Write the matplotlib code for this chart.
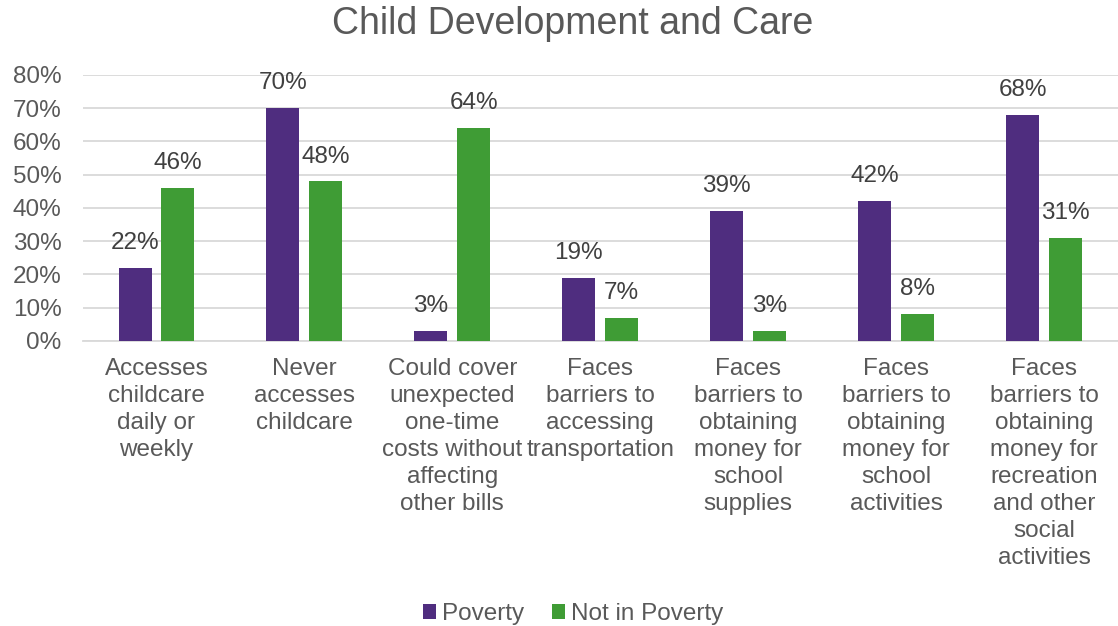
import matplotlib
matplotlib.use("Agg")
import matplotlib.pyplot as plt
import numpy as np

categories = [
    "Accesses\nchildcare\ndaily or\nweekly",
    "Never\naccesses\nchildcare",
    "Could cover\nunexpected\none-time\ncosts without\naffecting\nother bills",
    "Faces\nbarriers to\naccessing\ntransportation",
    "Faces\nbarriers to\nobtaining\nmoney for\nschool\nsupplies",
    "Faces\nbarriers to\nobtaining\nmoney for\nschool\nactivities",
    "Faces\nbarriers to\nobtaining\nmoney for\nrecreation\nand other\nsocial\nactivities",
]
poverty = [22, 70, 3, 19, 39, 42, 68]
not_poverty = [46, 48, 64, 7, 3, 8, 31]
series_names = ["Poverty", "Not in Poverty"]
yticks = [0, 10, 20, 30, 40, 50, 60, 70, 80]

plt.rcParams['font.family'] = ['Liberation Sans', 'DejaVu Sans']
PURPLE = "#4F2D7F"
GREEN = "#3F9C35"
TXT = "#404040"
TXT2 = "#595959"
FS = 17.5

fig = plt.figure(figsize=(11.18, 6.26), dpi=100)
ax = fig.add_axes([0.0738, 0.4553, 0.9262, 0.4249])

x = np.arange(len(categories))
w = 0.223
off = 0.145
b1 = ax.bar(x - off, poverty, w, color=PURPLE, label=series_names[0], zorder=3)
b2 = ax.bar(x + off, not_poverty, w, color=GREEN, label=series_names[1], zorder=3)

for bars, vals in ((b1, poverty), (b2, not_poverty)):
    for r, v in zip(bars, vals):
        ax.annotate(f"{v}%", (r.get_x() + r.get_width() / 2, v),
                    xytext=(0, 10), textcoords="offset points",
                    ha="center", va="bottom", fontsize=FS, color=TXT)

ax.set_xlim(-0.5, len(categories) - 0.5)
ax.set_ylim(0, 80)
ax.set_yticks(yticks)
ax.set_yticklabels([f"{t}%" for t in yticks], fontsize=FS, color=TXT2)
ax.set_xticks(x)
ax.set_xticklabels(categories, fontsize=FS, color=TXT2, linespacing=1.3, va="top")
ax.tick_params(axis="both", length=0)
ax.tick_params(axis="x", pad=12)
ax.tick_params(axis="y", pad=15)
ax.grid(axis="y", color="#D9D9D9", linewidth=1.3, zorder=0)
for s in ["top", "right", "left"]:
    ax.spines[s].set_visible(False)
ax.spines["bottom"].set_color("#D9D9D9")
ax.spines["bottom"].set_linewidth(1.3)

fig.suptitle("Child Development and Care", fontsize=27, color=TXT2, x=0.512, y=0.99)

fig.legend(handles=[b1, b2], labels=series_names, loc="center", bbox_to_anchor=(0.513, 0.019),
           ncol=2, frameon=False, fontsize=FS, handlelength=0.53, handleheight=0.53,
           handletextpad=0.25, columnspacing=1.15, labelcolor=TXT2)

fig.savefig("out.png", dpi=100)
